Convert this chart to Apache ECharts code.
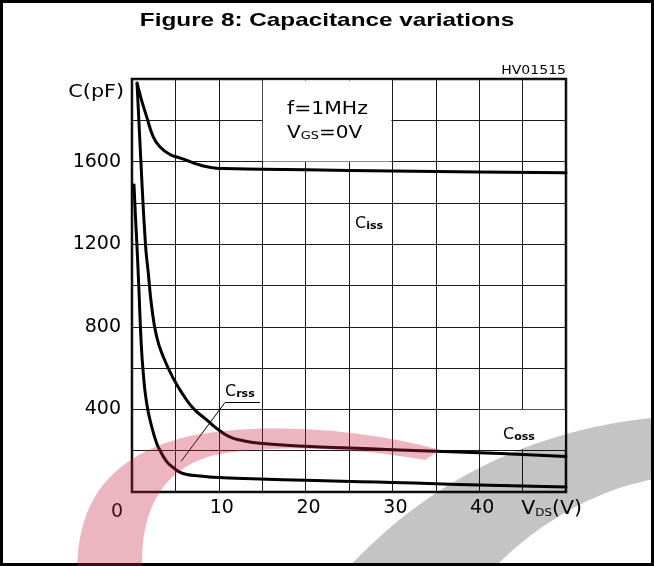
<!DOCTYPE html>
<html>
<head>
<meta charset="utf-8">
<script src="https://cdn.jsdelivr.net/npm/echarts@6/dist/echarts.min.js"></script>
<style>html,body{margin:0;padding:0;background:#fff}#c{width:654px;height:566px}</style>
</head>
<body>
<div id="c"></div>
<script>
// ---- data ----
const xTickLabels = [10, 20, 30, 40];
const yTickLabels = [400, 800, 1200, 1600];

const cissV = [0.58, 0.8, 1.1, 1.69, 2.45, 3.2, 4.4, 5.5, 6.5, 7.5, 8.5, 9.5, 10.5, 15, 20, 30, 40, 50];
const cissC = [1980, 1945, 1898, 1817, 1720, 1672, 1634, 1618, 1603, 1588, 1576, 1569, 1566, 1563, 1560, 1554, 1550, 1546];

const cossV = [0.58, 1.0, 1.55, 1.88, 2.27, 2.84, 3.6, 4.76, 5.9, 7.06, 8.6, 10, 11.2, 12.4, 14.7, 20, 25, 30, 35, 40, 45, 50];
const cossC = [1980, 1620, 1200, 1059, 897, 752, 655, 550, 470, 405, 349, 300, 268, 252, 236, 222, 213, 205, 197, 190, 182, 172];

const crssV = [0.23, 0.4, 0.54, 0.8, 1.04, 1.3, 1.69, 2.27, 2.84, 3.2, 4.0, 4.76, 5.5, 6.3, 7.8, 9.4, 14.7, 20, 26.3, 30, 35, 40, 45, 50];
const crssC = [1487, 1330, 1220, 978, 736, 575, 430, 316, 236, 203, 147, 118, 96, 85, 78, 71, 63, 57, 50, 46, 40, 34, 29, 24];

const pairs = (xs, ys) => xs.map((x, i) => [x, ys[i]]);

const FONT = 'DejaVu Sans';
const chart = echarts.init(document.getElementById('c'), null, {renderer: 'canvas'});

const lineSeries = (name, xs, ys) => ({
  name, type: 'line', data: pairs(xs, ys),
  smooth: 0.5, showSymbol: false, symbol: 'none',
  lineStyle: {color: '#000', width: 3, join: 'round', cap: 'round'}, z: 3, animation: false
});

// cubic bezier sampler for the decorative watermark outline
function bez(p0, p1, p2, p3, n) {
  const out = [];
  for (let i = 0; i <= n; i++) {
    const t = i / n, u = 1 - t;
    out.push([
      u*u*u*p0[0] + 3*u*u*t*p1[0] + 3*u*t*t*p2[0] + t*t*t*p3[0],
      u*u*u*p0[1] + 3*u*u*t*p1[1] + 3*u*t*t*p2[1] + t*t*t*p3[1]
    ]);
  }
  return out;
}
const redShape = [].concat(
  bez([77,570],[78,500],[110,455],[190,436],24),
  bez([190,436],[260,422],[360,428],[440,450],24),
  bez([425,460],[360,448],[270,444],[215,455],24),
  bez([215,455],[170,466],[140,500],[142,570],24)
);
const grayShape = [].concat(
  bez([346,570],[420,490],[520,430],[660,417],30),
  bez([660,478],[600,488],[540,520],[492,570],30)
);

const richLbl = (big, small, bold) => ({
  a: {fontFamily: FONT, fontSize: big, fill: '#000', verticalAlign: 'bottom', lineHeight: big + 3},
  b: {fontFamily: FONT, fontSize: small, fontWeight: bold ? 'bold' : 'normal', fill: '#000', verticalAlign: 'bottom', lineHeight: big + 1}
});
const txt = (x, y, style, sx) => ({type: 'text', x, y, scaleX: sx || 1, style: Object.assign({fill: '#000', fontFamily: FONT, verticalAlign: 'middle'}, style), z: 60});

chart.setOption({
  animation: false,
  backgroundColor: '#fff',
  grid: {left: 132, right: 88, top: 79, bottom: 74, show: true, borderColor: '#000', borderWidth: 2.5, backgroundColor: 'transparent'},
  xAxis: {
    type: 'value', min: 0, max: 50, interval: 5,
    axisLine: {show: false}, axisTick: {show: false},
    splitLine: {show: true, lineStyle: {color: '#1a1a1a', width: 1}},
    axisLabel: {
      color: '#000', fontFamily: FONT, fontSize: 19, margin: 7, padding: [0, 0, 0, 6],
      formatter: v => (xTickLabels.indexOf(v) >= 0 ? String(v) : '')
    }
  },
  yAxis: {
    type: 'value', min: 0, max: 2000, interval: 200,
    axisLine: {show: false}, axisTick: {show: false},
    splitLine: {show: true, lineStyle: {color: '#1a1a1a', width: 1}},
    axisLabel: {
      color: '#000', fontFamily: FONT, fontSize: 19, margin: 11,
      formatter: v => (yTickLabels.indexOf(v) >= 0 ? String(v) : '')
    }
  },
  series: [
    lineSeries('Ciss', cissV, cissC),
    lineSeries('Coss', cossV, cossC),
    lineSeries('Crss', crssV, crssC)
  ],
  graphic: [
    {type: 'rect', shape: {x: 1.5, y: 1.5, width: 651, height: 563}, style: {fill: 'none', stroke: '#000', lineWidth: 3}, z: 50, silent: true},
    txt(327, 21, {text: 'Figure 8: Capacitance variations', fontFamily: 'Liberation Sans, Arial', fontWeight: 'bold', fontSize: 19, align: 'center'}, 1.28),
    {type: 'rect', shape: {x: 262.8, y: 80.5, width: 128.6, height: 81}, style: {fill: '#fff'}, z: 5, silent: true},
    {type: 'rect', shape: {x: 479.8, y: 409.8, width: 85, height: 39.5}, style: {fill: '#fff'}, z: 5, silent: true},
    txt(566, 71, {text: 'HV01515', fontSize: 13, align: 'right'}, 1.08),
    txt(124, 92, {text: 'C(pF)', fontSize: 18, align: 'right'}, 1.15),
    txt(287, 110, {text: 'f=1MHz', fontSize: 17, align: 'left'}, 1.2),
    txt(287, 132, {text: '{a|V}{b|GS}{a|=0V}', align: 'left', rich: richLbl(17, 11, false)}, 1.18),
    txt(355, 222, {text: '{a|C}{b|iss}', align: 'left', rich: richLbl(16, 11, true)}),
    txt(503, 433, {text: '{a|C}{b|oss}', align: 'left', rich: richLbl(16, 11, true)}),
    txt(225, 390, {text: '{a|C}{b|rss}', align: 'left', rich: richLbl(16, 11, true)}),
    {type: 'polyline', shape: {points: [[260, 402.5], [225, 402.5], [181, 461.5]]}, style: {stroke: '#000', lineWidth: 1, fill: null}, z: 60},
    txt(117, 512, {text: '0', fontSize: 19, align: 'center'}),
    txt(582, 508, {text: '{a|V}{b|DS}{a|(V)}', align: 'right', rich: richLbl(19, 11, false)}, 1.08),
    {type: 'polygon', shape: {points: redShape}, style: {fill: 'rgba(200,30,60,0.33)'}, z: 100, silent: true},
    {type: 'polygon', shape: {points: grayShape}, style: {fill: 'rgba(0,0,0,0.23)'}, z: 100, silent: true}
  ]
});
</script>
</body>
</html>
